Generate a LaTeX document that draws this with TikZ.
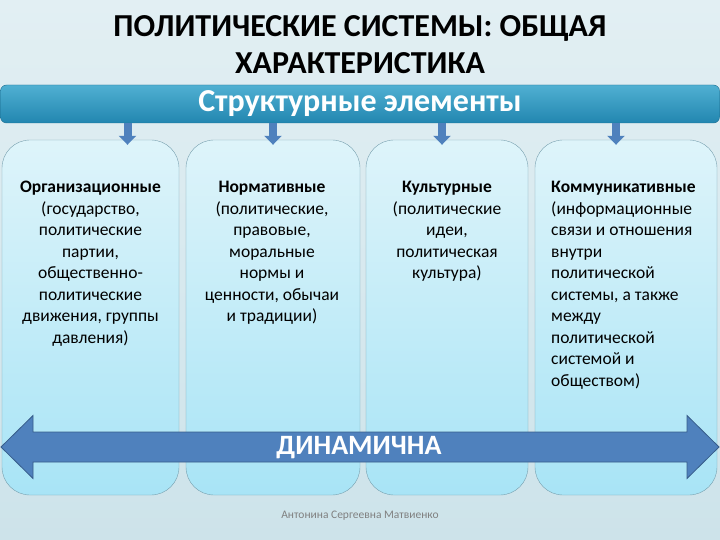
\documentclass[tikz,border=0pt]{standalone}
\usepackage{fontspec}
\setmainfont{Carlito}
\usepackage{tikz}
\usetikzlibrary{arrows.meta, positioning}
\definecolor{Fondo}{RGB}{205, 227, 234}
\definecolor{FondoClaro}{RGB}{226, 239, 243}
\definecolor{Banda}{RGB}{34, 134, 176}
\definecolor{BandaClara}{RGB}{80, 176, 210}
\definecolor{Caja}{RGB}{168, 228, 246}
\definecolor{CajaClara}{RGB}{222, 244, 250}
\definecolor{Borde}{RGB}{120, 160, 175}
\definecolor{Flecha}{RGB}{79, 129, 189}
\definecolor{FlechaBorde}{RGB}{56, 93, 138}

\begin{document}
\begin{tikzpicture}[x=1pt, y=-1pt,
        elem/.style={rectangle, rounded corners=28pt, draw=Borde, thin, top color=CajaClara, bottom color=Caja, minimum height=355pt},
        texto/.style={anchor=north, inner sep=0pt, align=center, font=\fontsize{17.5}{21.5}\selectfont},
        arrow/.style={line width=8pt, draw=Flecha, -{Triangle[width=17pt, length=9pt]}}
    ]
        % ================= FONDO =================
        \useasboundingbox (0,0) rectangle (720,540);
        \fill[top color=FondoClaro, bottom color=Fondo] (0,0) rectangle (720,540);

        % ================= TITULO =================
        \node[font=\fontsize{32}{37}\selectfont\bfseries, align=center] (titulo) at (360, 45) {ПОЛИТИЧЕСКИЕ СИСТЕМЫ: ОБЩАЯ\\ХАРАКТЕРИСТИКА};

        \node[rectangle, rounded corners=6pt, draw=Banda!80!black, top color=BandaClara, bottom color=Banda, minimum width=719pt, minimum height=38pt, text=white, font=\fontsize{32}{34}\selectfont\bfseries] (banda) at (360, 104) {Структурные элементы};

        % ================= ELEMENTOS =================
        \node[elem, minimum width=177pt] (org) at (90.5, 317.5) {};
        \node[elem, minimum width=174pt] (norm) at (273, 317.5) {};
        \node[elem, minimum width=162pt] (cult) at (447, 317.5) {};
        \node[elem, minimum width=182pt] (comm) at (626, 317.5) {};

        \draw[arrow] ([xshift=37pt]org.north |- banda.south) -- ([xshift=37pt, yshift=-5pt]org.north);
        \draw[arrow] (norm.north |- banda.south) -- ([yshift=-5pt]norm.north);
        \draw[arrow] ([xshift=-5pt]cult.north |- banda.south) -- ([xshift=-5pt, yshift=-5pt]cult.north);
        \draw[arrow] ([xshift=-10pt]comm.north |- banda.south) -- ([xshift=-10pt, yshift=-5pt]comm.north);

        \node[texto] (org_txt) at (90.5, 181) {\textbf{Организационные}\\(государство,\\политические\\партии,\\общественно-\\политические\\движения, группы\\давления)};
        \node[texto] (norm_txt) at (272, 181) {\textbf{Нормативные}\\(политические,\\правовые,\\моральные\\нормы и\\ценности, обычаи\\и традиции)};
        \node[texto] (cult_txt) at (447, 181) {\textbf{Культурные}\\(политические\\идеи,\\политическая\\культура)};
        \node[texto, anchor=north west, align=left] (comm_txt) at (551, 181) {\textbf{Коммуникативные}\\(информационные\\связи и отношения\\внутри\\политической\\системы, а также\\между\\политической\\системой и\\обществом)};

        % ================= DINAMICA =================
        \filldraw[fill=Flecha, draw=FlechaBorde, thick] (1,447) -- (33,415.5) -- (33,432) -- (687,432) -- (687,415.5) -- (719,447)
            -- (687,478.5) -- (687,462) -- (33,462) -- (33,478.5) -- cycle;
        \node[text=white, font=\fontsize{28}{30}\selectfont\bfseries] (dinamica) at (359, 448) {ДИНАМИЧНА};

        \node[text=gray, font=\fontsize{11.5}{13}\selectfont] (autor) at (360, 516) {Антонина Сергеевна Матвиенко};
    \end{tikzpicture}
\end{document}
